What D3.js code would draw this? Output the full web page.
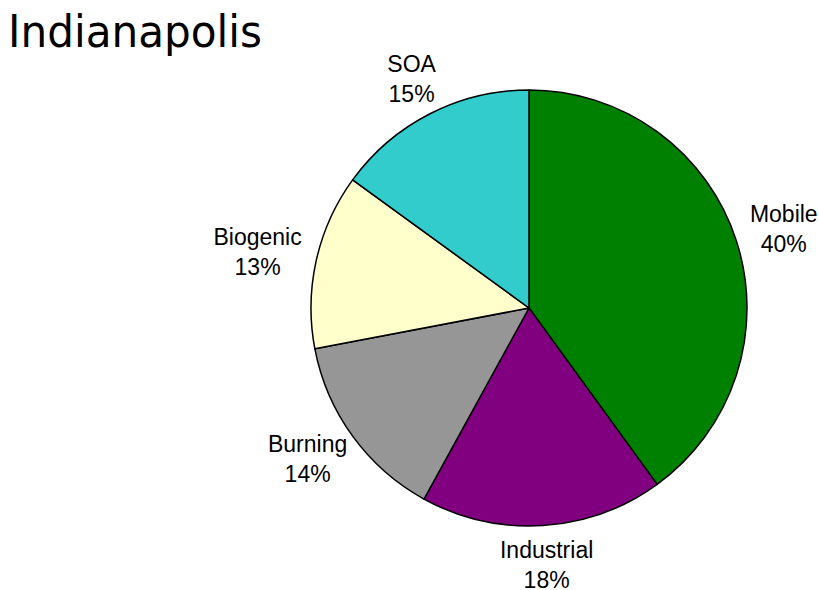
<!DOCTYPE html>
<html><head><meta charset="utf-8">
<script src="https://cdn.jsdelivr.net/npm/d3@7"></script>
<style>body{margin:0;background:#fff}</style>
</head><body>
<svg id="c" width="819" height="590"></svg>
<script>
const title = "Indianapolis";
const categories = ["Mobile", "Industrial", "Burning", "Biogenic", "SOA"];
const values = [40, 18, 14, 13, 15];
const colors = ["#008000", "#800080", "#969696", "#FFFFCC", "#33CCCC"];

const svg = d3.select("#c");
const cx = 529, cy = 308, R = 218;

svg.append("text").attr("x", 8).attr("y", 47)
  .attr("font-family", "DejaVu Sans, Verdana, sans-serif")
  .attr("font-size", 44).attr("textLength", 254).attr("lengthAdjust", "spacingAndGlyphs")
  .attr("fill", "#000").text(title);

const data = categories.map((c, i) => ({name: c, value: values[i], color: colors[i]}));
const pie = d3.pie().value(d => d.value).sort(null);
const arcs = pie(data);
const arc = d3.arc().innerRadius(0).outerRadius(R);

const g = svg.append("g").attr("transform", `translate(${cx},${cy})`);
g.selectAll("path").data(arcs).join("path")
  .attr("d", arc).attr("fill", d => d.data.color)
  .attr("stroke", "#000").attr("stroke-width", 1.5).attr("stroke-linejoin", "round");

const total = d3.sum(values);
const fs = 23, lh = 30, gap = 16;
const capH = fs * 0.716;
arcs.forEach(a => {
  const th = (a.startAngle + a.endAngle) / 2;
  const s = Math.sin(th), c = -Math.cos(th);
  const t = g.append("text").attr("font-family", "Liberation Sans, Arial, sans-serif")
    .attr("font-size", fs).attr("text-anchor", "middle").attr("fill", "#000");
  t.append("tspan").attr("x", 0).attr("y", 0).text(a.data.name);
  t.append("tspan").attr("x", 0).attr("y", lh).text(Math.round(a.data.value / total * 100) + "%");
  const w = t.node().getBBox().width;
  const h = lh + capH;           // visual block: cap top of line 1 to baseline of line 2
  const px = (R + gap) * s + (w / 2) * s;
  const py = (R + gap) * c + (h / 2) * c;
  // visual block center relative to first baseline: (-capH + lh)/2
  const offY = py - (lh - capH) / 2;
  t.attr("transform", `translate(${px},${offY})`);
});
</script>
</body></html>
